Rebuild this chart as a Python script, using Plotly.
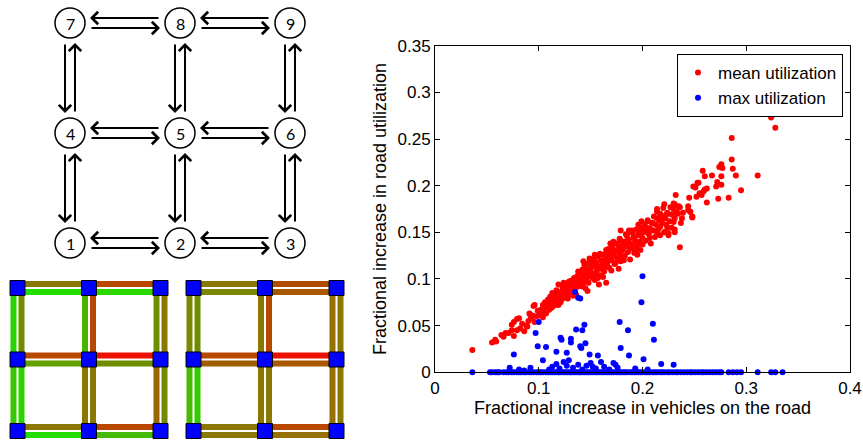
import plotly.graph_objects as go

# ---------------- data ----------------
node_ids = [1, 2, 3, 4, 5, 6, 7, 8, 9]
node_col = [0, 1, 2, 0, 1, 2, 0, 1, 2]
node_row = [0, 0, 0, 1, 1, 1, 2, 2, 2]  # row 0 = bottom row

h_edges = [(7, 8), (8, 9), (4, 5), (5, 6), (1, 2), (2, 3)]   # (left node, right node)
v_edges = [(7, 4), (4, 1), (8, 5), (5, 2), (9, 6), (6, 3)]   # (top node, bottom node)

# colours of the two directed links of each edge: (upper / left bar, lower / right bar)
left_grid_h_colors = [("#8a7800", "#22dd00"), ("#b84800", "#2ad800"), ("#b84800", "#64a000"),
                      ("#ee1000", "#6e8c00"), ("#8a7800", "#22dd00"), ("#b84800", "#44bb00")]
left_grid_v_colors = [("#2ad400", "#6e8c00"), ("#38c800", "#2ad400"), ("#48b400", "#b84800"),
                      ("#8a7800", "#8a7800"), ("#6e8c00", "#8a7800"), ("#9a6400", "#748800")]
right_grid_h_colors = [("#8a7800", "#7a8800"), ("#b04c00", "#a85800"), ("#b84800", "#a05e00"),
                       ("#ee1000", "#a85800"), ("#8a7800", "#8a7800"), ("#b84800", "#967000")]
right_grid_v_colors = [("#7a8800", "#6e8c00"), ("#44bb00", "#33cc00"), ("#8a7800", "#b84800"),
                       ("#8a7800", "#8a7800"), ("#967000", "#8a7800"), ("#967000", "#8a7800")]

# mean utilization (red)
red_x = [
    0.036, 0.055, 0.058, 0.059, 0.064, 0.066, 0.068, 0.071, 0.074, 0.074,
    0.076, 0.076, 0.079, 0.081, 0.079, 0.082, 0.084, 0.086, 0.088, 0.089,
    0.090, 0.092, 0.091, 0.094, 0.095, 0.093, 0.096, 0.096, 0.098, 0.099,
    0.101, 0.102, 0.103, 0.104, 0.105, 0.106, 0.107, 0.108, 0.109, 0.110,
    0.111, 0.112, 0.113, 0.114, 0.115, 0.116, 0.117, 0.118, 0.119, 0.120,
    0.104, 0.108, 0.112, 0.116, 0.119, 0.107, 0.110, 0.113, 0.115, 0.118,
    0.121, 0.122, 0.123, 0.124, 0.125, 0.126, 0.127, 0.128, 0.129, 0.130,
    0.131, 0.132, 0.133, 0.134, 0.135, 0.136, 0.137, 0.138, 0.139, 0.140,
    0.121, 0.124, 0.126, 0.128, 0.130, 0.132, 0.134, 0.136, 0.138, 0.140,
    0.122, 0.125, 0.129, 0.133, 0.137,
    0.141, 0.142, 0.143, 0.144, 0.145, 0.146, 0.147, 0.148, 0.149, 0.150,
    0.151, 0.152, 0.153, 0.154, 0.155, 0.156, 0.157, 0.158, 0.159, 0.160,
    0.142, 0.144, 0.146, 0.148, 0.150, 0.152, 0.154, 0.156, 0.158, 0.160,
    0.143, 0.147, 0.151, 0.155, 0.159, 0.145, 0.149, 0.153, 0.157,
    0.161, 0.162, 0.163, 0.164, 0.165, 0.166, 0.167, 0.168, 0.169, 0.170,
    0.171, 0.172, 0.173, 0.174, 0.175, 0.176, 0.177, 0.178, 0.179, 0.180,
    0.162, 0.164, 0.166, 0.167, 0.168, 0.170, 0.172, 0.174, 0.176, 0.178,
    0.180, 0.163, 0.169, 0.173, 0.177, 0.179, 0.165, 0.171,
    0.181, 0.182, 0.183, 0.184, 0.185, 0.186, 0.187, 0.188, 0.189, 0.190,
    0.191, 0.192, 0.193, 0.194, 0.195, 0.196, 0.197, 0.198, 0.199, 0.200,
    0.182, 0.184, 0.186, 0.188, 0.190, 0.192, 0.194, 0.196, 0.198, 0.200,
    0.183, 0.187, 0.191, 0.195, 0.199,
    0.201, 0.202, 0.203, 0.204, 0.205, 0.206, 0.207, 0.208, 0.209, 0.210,
    0.211, 0.212, 0.213, 0.214, 0.215, 0.216, 0.217, 0.218, 0.219, 0.220,
    0.221, 0.222, 0.223, 0.224, 0.225, 0.226, 0.227, 0.228, 0.229, 0.230,
    0.286, 0.286, 0.287, 0.290, 0.311, 0.295, 0.283, 0.273, 0.276, 0.274,
    0.277, 0.276, 0.272, 0.276, 0.271, 0.258, 0.260, 0.267, 0.253, 0.251,
    0.262, 0.259, 0.257, 0.252, 0.245, 0.262, 0.232, 0.221, 0.231, 0.214,
    0.217, 0.230, 0.236, 0.234, 0.239, 0.244, 0.246, 0.248, 0.237, 0.231,
    0.228, 0.223, 0.219, 0.214, 0.205, 0.210, 0.217, 0.224, 0.231, 0.231,
    0.221, 0.225, 0.214, 0.207, 0.200, 0.196, 0.204, 0.190, 0.179, 0.236,
    0.207, 0.167, 0.150, 0.324, 0.328, 0.249, 0.254, 0.260, 0.255, 0.235,
    0.233, 0.230, 0.238, 0.248, 0.244, 0.246,
]
red_y = [
    0.024, 0.032, 0.035, 0.033, 0.040, 0.038, 0.042, 0.042, 0.045, 0.051,
    0.039, 0.054, 0.057, 0.058, 0.045, 0.047, 0.052, 0.044, 0.050, 0.049,
    0.055, 0.061, 0.063, 0.061, 0.071, 0.058, 0.054, 0.072, 0.060, 0.066,
    0.061, 0.067, 0.064, 0.072, 0.069, 0.075, 0.063, 0.071, 0.078, 0.067,
    0.081, 0.074, 0.070, 0.079, 0.083, 0.072, 0.088, 0.077, 0.094, 0.081,
    0.059, 0.066, 0.069, 0.080, 0.072, 0.074, 0.072, 0.085, 0.076, 0.084,
    0.086, 0.078, 0.091, 0.083, 0.087, 0.080, 0.095, 0.089, 0.084, 0.092,
    0.098, 0.087, 0.093, 0.101, 0.090, 0.096, 0.103, 0.092, 0.099, 0.106,
    0.075, 0.096, 0.089, 0.079, 0.085, 0.095, 0.088, 0.083, 0.108, 0.094,
    0.084, 0.093, 0.097, 0.082, 0.097,
    0.100, 0.110, 0.096, 0.104, 0.113, 0.099, 0.108, 0.117, 0.103, 0.111,
    0.121, 0.106, 0.114, 0.099, 0.118, 0.109, 0.124, 0.113, 0.104, 0.120,
    0.092, 0.115, 0.106, 0.096, 0.118, 0.101, 0.126, 0.115, 0.094, 0.111,
    0.119, 0.087, 0.113, 0.104, 0.127, 0.090, 0.122, 0.120, 0.101,
    0.115, 0.126, 0.108, 0.121, 0.131, 0.117, 0.124, 0.112, 0.129, 0.120,
    0.134, 0.125, 0.116, 0.130, 0.138, 0.122, 0.133, 0.127, 0.119, 0.136,
    0.102, 0.113, 0.127, 0.132, 0.120, 0.109, 0.140, 0.117, 0.131, 0.143,
    0.124, 0.119, 0.138, 0.124, 0.111, 0.141, 0.096, 0.126,
    0.131, 0.140, 0.125, 0.136, 0.146, 0.129, 0.139, 0.133, 0.150, 0.137,
    0.144, 0.128, 0.141, 0.153, 0.136, 0.147, 0.140, 0.131, 0.155, 0.144,
    0.120, 0.148, 0.142, 0.121, 0.152, 0.146, 0.132, 0.158, 0.149, 0.137,
    0.135, 0.152, 0.133, 0.126, 0.162,
    0.150, 0.158, 0.141, 0.155, 0.163, 0.148, 0.154, 0.138, 0.160, 0.152,
    0.167, 0.145, 0.158, 0.172, 0.153, 0.163, 0.147, 0.168, 0.160, 0.176,
    0.150, 0.165, 0.158, 0.171, 0.149, 0.162, 0.177, 0.155, 0.169, 0.161,
    0.251, 0.228, 0.218, 0.211, 0.211, 0.195, 0.187, 0.186, 0.223, 0.220,
    0.219, 0.210, 0.204, 0.201, 0.199, 0.216, 0.210, 0.211, 0.203, 0.198,
    0.197, 0.194, 0.190, 0.188, 0.187, 0.182, 0.190, 0.180, 0.180, 0.175,
    0.170, 0.175, 0.177, 0.170, 0.171, 0.178, 0.172, 0.166, 0.160, 0.165,
    0.169, 0.169, 0.165, 0.165, 0.162, 0.160, 0.156, 0.155, 0.153, 0.150,
    0.150, 0.147, 0.150, 0.154, 0.154, 0.151, 0.151, 0.150, 0.152, 0.134,
    0.144, 0.132, 0.121, 0.273, 0.262, 0.199, 0.203, 0.196, 0.192, 0.178,
    0.172, 0.181, 0.165, 0.167, 0.174, 0.172,
]

# max utilization (blue): points above zero
blue_x = [
    0.072, 0.076, 0.092, 0.097, 0.100, 0.099, 0.107, 0.104, 0.117, 0.121,
    0.122, 0.131, 0.131, 0.127, 0.129, 0.135, 0.138, 0.140, 0.136, 0.142,
    0.144, 0.140, 0.141, 0.145, 0.149, 0.157, 0.152, 0.160, 0.172, 0.178,
    0.186, 0.179, 0.187, 0.200, 0.199, 0.210, 0.211, 0.201, 0.218, 0.230,
    0.113, 0.117, 0.120, 0.124, 0.133, 0.138, 0.142, 0.146, 0.155, 0.163,
    0.168, 0.174, 0.081, 0.086, 0.110, 0.127, 0.150, 0.176, 0.193, 0.205,
]
blue_y = [
    0.005, 0.019, 0.005, 0.042, 0.054, 0.028, 0.027, 0.013, 0.022, 0.037,
    0.035, 0.036, 0.032, 0.021, 0.013, 0.086, 0.080, 0.079, 0.046, 0.045,
    0.051, 0.028, 0.026, 0.031, 0.019, 0.018, 0.006, 0.011, 0.010, 0.054,
    0.045, 0.026, 0.018, 0.103, 0.075, 0.052, 0.035, 0.014, 0.009, 0.008,
    0.006, 0.009, 0.004, 0.011, 0.005, 0.008, 0.003, 0.007, 0.004, 0.006,
    0.003, 0.008, 0.003, 0.002, 0.003, 0.007, 0.010, 0.005, 0.004, 0.003,
]
# max utilization (blue): points lying on zero
blue_zero_x = [
    0.036, 0.053, 0.055, 0.058, 0.060, 0.062, 0.066, 0.069, 0.071, 0.074,
    0.076, 0.079, 0.081, 0.083, 0.086, 0.088, 0.091, 0.093, 0.095, 0.098,
    0.100, 0.102, 0.104, 0.107, 0.109, 0.111, 0.113, 0.115, 0.117, 0.119,
    0.120, 0.122, 0.124, 0.126, 0.128, 0.130, 0.131, 0.133, 0.135, 0.137,
    0.139, 0.140, 0.142, 0.144, 0.146, 0.148, 0.150, 0.152, 0.154, 0.156,
    0.158, 0.160, 0.162, 0.164, 0.166, 0.168, 0.170, 0.172, 0.175, 0.177,
    0.179, 0.181, 0.183, 0.185, 0.188, 0.190, 0.192, 0.194, 0.196, 0.198,
    0.200, 0.203, 0.205, 0.207, 0.210, 0.212, 0.214, 0.217, 0.219, 0.221,
    0.224, 0.226, 0.229, 0.232, 0.234, 0.237, 0.240, 0.243, 0.246, 0.248,
    0.251, 0.254, 0.257, 0.259, 0.262, 0.265, 0.268, 0.271, 0.274, 0.276,
    0.283, 0.287, 0.291, 0.295, 0.311, 0.324, 0.328, 0.335,
]

x_tick_vals = [0, 0.1, 0.2, 0.3, 0.4]
x_tick_text = ["0", "0.1", "0.2", "0.3", "0.4"]
y_tick_vals = [0, 0.05, 0.1, 0.15, 0.2, 0.25, 0.3, 0.35]
y_tick_text = ["0", "0.05", "0.1", "0.15", "0.2", "0.25", "0.3", "0.35"]

series_names = ["mean utilization", "max utilization"]
x_title = "Fractional increase in vehicles on the road"
y_title = "Fractional increase in road utilization"

# ---------------- layout constants (pixel units on the hidden diagram axes) ----------------
W, H = 863, 440
G_X0, G_Y0, G_STEP, NODE_R = 70, 243, 110, 15
ARROW_GAP, ARROW_OFF = 20, 5
GRID_X0 = [17.5, 193.5]
GRID_Y0, GRID_STEP = 431, 71.5
BAR_IN, BAR_OUT, SQ = 1, 7, 7.5
FONT = "Liberation Sans, Arial, Helvetica, sans-serif"

shapes, annotations = [], []


def gpos(n):
    i = node_ids.index(n)
    return G_X0 + node_col[i] * G_STEP, G_Y0 - node_row[i] * G_STEP


def arrow(x0, y0, x1, y1):
    annotations.append(dict(x=x1, y=y1, ax=x0, ay=y0, xref="x2", yref="y2", axref="x2", ayref="y2",
                            text="", showarrow=True, arrowhead=4, arrowsize=1.2, arrowwidth=2,
                            arrowcolor="black", standoff=0, startstandoff=0))


# graph diagram
for a, b in h_edges:
    xa, y = gpos(a)
    xb, _ = gpos(b)
    arrow(xb - ARROW_GAP, y - ARROW_OFF, xa + ARROW_GAP, y - ARROW_OFF)
    arrow(xa + ARROW_GAP, y + ARROW_OFF, xb - ARROW_GAP, y + ARROW_OFF)
for a, b in v_edges:
    x, ya = gpos(a)
    _, yb = gpos(b)
    arrow(x - ARROW_OFF, ya + ARROW_GAP, x - ARROW_OFF, yb - ARROW_GAP)
    arrow(x + ARROW_OFF, yb - ARROW_GAP, x + ARROW_OFF, ya + ARROW_GAP)
for n in node_ids:
    x, y = gpos(n)
    shapes.append(dict(type="circle", xref="x2", yref="y2", x0=x - NODE_R, x1=x + NODE_R,
                       y0=y - NODE_R, y1=y + NODE_R, line=dict(color="black", width=1.5),
                       fillcolor="white"))
    annotations.append(dict(x=x, y=y, xref="x2", yref="y2", text=str(n), showarrow=False,
                            font=dict(family="Lato, Open Sans, sans-serif", size=16, color="black")))

# coloured grids
for gx0, hcols, vcols in [(GRID_X0[0], left_grid_h_colors, left_grid_v_colors),
                          (GRID_X0[1], right_grid_h_colors, right_grid_v_colors)]:
    def ppos(n):
        i = node_ids.index(n)
        return gx0 + node_col[i] * GRID_STEP, GRID_Y0 - node_row[i] * GRID_STEP
    for (a, b), (c1, c2) in zip(h_edges, hcols):
        xa, y = ppos(a)
        xb, _ = ppos(b)
        shapes.append(dict(type="rect", xref="x2", yref="y2", x0=xa, x1=xb, y0=y - BAR_OUT, y1=y - BAR_IN,
                           fillcolor=c1, line=dict(width=0)))
        shapes.append(dict(type="rect", xref="x2", yref="y2", x0=xa, x1=xb, y0=y + BAR_IN, y1=y + BAR_OUT,
                           fillcolor=c2, line=dict(width=0)))
    for (a, b), (c1, c2) in zip(v_edges, vcols):
        x, ya = ppos(a)
        _, yb = ppos(b)
        shapes.append(dict(type="rect", xref="x2", yref="y2", x0=x - BAR_OUT, x1=x - BAR_IN, y0=ya, y1=yb,
                           fillcolor=c1, line=dict(width=0)))
        shapes.append(dict(type="rect", xref="x2", yref="y2", x0=x + BAR_IN, x1=x + BAR_OUT, y0=ya, y1=yb,
                           fillcolor=c2, line=dict(width=0)))
    for n in node_ids:
        x, y = ppos(n)
        shapes.append(dict(type="rect", xref="x2", yref="y2", x0=x - SQ, x1=x + SQ, y0=y - SQ, y1=y + SQ,
                           fillcolor="#0000ff", line=dict(color="black", width=1)))

# ---------------- figure ----------------
fig = go.Figure()
fig.add_trace(go.Scatter(x=red_x, y=red_y, mode="markers", name=series_names[0],
                         marker=dict(color="#ff0000", size=6, line=dict(width=0)), cliponaxis=False))
fig.add_trace(go.Scatter(x=blue_x + blue_zero_x, y=blue_y + [0] * len(blue_zero_x), mode="markers",
                         name=series_names[1],
                         marker=dict(color="#0000ff", size=6, line=dict(width=0)), cliponaxis=False))

axis_common = dict(showline=True, linecolor="black", linewidth=1, mirror="ticks", ticks="inside",
                   ticklen=5, tickcolor="black", showgrid=False, zeroline=False, automargin=False,
                   tickfont=dict(family=FONT, size=17, color="black"))

fig.update_layout(
    width=W, height=H, margin=dict(l=0, r=0, t=0, b=0, pad=0, autoexpand=False),
    paper_bgcolor="white", plot_bgcolor="white",
    xaxis=dict(domain=[435 / W, 850 / W], range=[0, 0.4], tickvals=x_tick_vals, ticktext=x_tick_text,
               title=dict(text=x_title, font=dict(family=FONT, size=18, color="black"), standoff=4),
               anchor="y", **axis_common),
    yaxis=dict(domain=[(H - 372.3) / H, (H - 45.7) / H], range=[0, 0.35], tickvals=y_tick_vals,
               ticktext=y_tick_text,
               title=dict(text=y_title, font=dict(family=FONT, size=18, color="black"), standoff=6),
               anchor="x", **axis_common),
    xaxis2=dict(domain=[0, 360 / W], range=[0, 360], visible=False, anchor="y2", fixedrange=True,
                automargin=False),
    yaxis2=dict(domain=[0, 1], range=[H, 0], visible=False, anchor="x2", fixedrange=True,
                automargin=False),
    legend=dict(x=843 / W, xanchor="right", y=(H - 54) / H, yanchor="top", bgcolor="white",
                bordercolor="black", borderwidth=1, font=dict(family=FONT, size=17, color="black"),
                tracegroupgap=0),
    shapes=shapes, annotations=annotations, showlegend=True,
)

fig.write_html("out.html", config={"displayModeBar": False},
               post_script="document.body.style.margin='0px';")
